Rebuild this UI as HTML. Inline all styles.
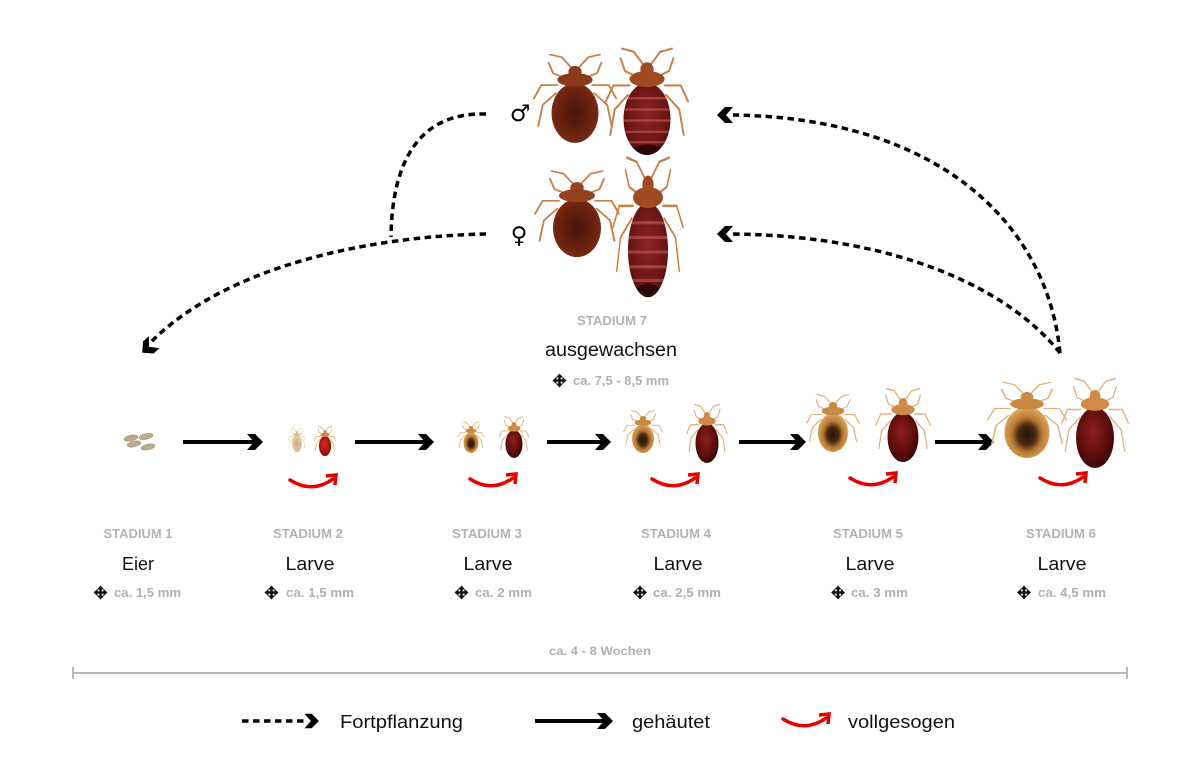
<!DOCTYPE html>
<html>
<head>
<meta charset="utf-8">
<style>
  html,body{margin:0;padding:0;background:#fff;}
  svg{display:block;}
  text{font-family:"Liberation Sans",Arial,sans-serif;}
  .st{font-size:13px;font-weight:bold;fill:#b3b3b3;}
  .nm{font-size:18px;fill:#111;}
  .sz{font-size:13px;font-weight:bold;fill:#b0b0b0;}
  .lg{font-size:18px;fill:#111;}
  .sym{font-family:"DejaVu Sans",sans-serif;font-size:23px;fill:#000;}
</style>
</head>
<body>
<svg width="1200" height="768" viewBox="0 0 1200 768" xmlns="http://www.w3.org/2000/svg">
  <defs>
    <radialGradient id="gAmber" cx="0.5" cy="0.55" r="0.55">
      <stop offset="0" stop-color="#24120a"/>
      <stop offset="0.35" stop-color="#4a2810"/>
      <stop offset="0.62" stop-color="#b87a34"/>
      <stop offset="1" stop-color="#e3aa60"/>
    </radialGradient>
    <radialGradient id="gRed" cx="0.45" cy="0.4" r="0.6">
      <stop offset="0" stop-color="#8e1e1e"/>
      <stop offset="0.7" stop-color="#5c0c0c"/>
      <stop offset="1" stop-color="#3a0505"/>
    </radialGradient>
    <radialGradient id="gRedBright" cx="0.45" cy="0.4" r="0.6">
      <stop offset="0" stop-color="#d42a20"/>
      <stop offset="1" stop-color="#8a0c0a"/>
    </radialGradient>
    <radialGradient id="gPale" cx="0.5" cy="0.5" r="0.6">
      <stop offset="0" stop-color="#c8ad80"/>
      <stop offset="1" stop-color="#e6d2a8"/>
    </radialGradient>
    <radialGradient id="gBrown" cx="0.5" cy="0.5" r="0.6">
      <stop offset="0" stop-color="#4a140a"/>
      <stop offset="0.7" stop-color="#6e2410"/>
      <stop offset="1" stop-color="#8a3416"/>
    </radialGradient>
    <radialGradient id="gStripe" cx="0.5" cy="0.45" r="0.6">
      <stop offset="0" stop-color="#8a2424"/>
      <stop offset="0.75" stop-color="#6a1414"/>
      <stop offset="1" stop-color="#3e0808"/>
    </radialGradient>
    <clipPath id="abd" clipPathUnits="userSpaceOnUse">
      <ellipse cx="0" cy="0" rx="32" ry="45"/>
    </clipPath>
    <g id="bug">
      <g fill="none" stroke-linecap="round" stroke-linejoin="round" style="stroke:var(--lc,#dca468);stroke-width:var(--lw,3)">
        <path d="M-12,-52 L-30,-60 L-36,-76 M12,-52 L30,-60 L36,-76"/>
        <path d="M-24,-42 L-46,-42 L-56,-22 M24,-42 L46,-42 L56,-22"/>
        <path d="M-26,-30 L-44,-12 L-50,20 M26,-30 L44,-12 L50,20"/>
        <path d="M-5,-68 L-18,-84 L-34,-88 M5,-68 L18,-84 L34,-88"/>
      </g>
      <ellipse cx="0" cy="0" rx="32" ry="45"/>
      <ellipse cx="0" cy="-50" rx="24" ry="10" fill="currentColor"/>
      <ellipse cx="0" cy="-62" rx="9" ry="9" fill="currentColor"/>
    </g>
    <g id="stripes" clip-path="url(#abd)" stroke="#c86060" stroke-opacity="0.55" stroke-width="3">
      <line x1="-34" y1="-26" x2="34" y2="-26"/>
      <line x1="-34" y1="-12" x2="34" y2="-12"/>
      <line x1="-34" y1="2" x2="34" y2="2"/>
      <line x1="-34" y1="16" x2="34" y2="16"/>
      <line x1="-34" y1="29" x2="34" y2="29"/>
      <ellipse cx="0" cy="40" rx="20" ry="8" fill="#2a0505" stroke="none"/>
    </g>
    <g id="mv" fill="#111">
      <rect x="-5.5" y="-1.2" width="11" height="2.4"/>
      <rect x="-1.2" y="-5.5" width="2.4" height="11"/>
      <polygon points="0,-7 -3.6,-3 3.6,-3"/>
      <polygon points="0,7 -3.6,3 3.6,3"/>
      <polygon points="-7,0 -3,-3.6 -3,3.6"/>
      <polygon points="7,0 3,-3.6 3,3.6"/>
    </g>
    <polygon id="chev" points="-15,-8 -7,-8 1,0 -7,8 -15,8 -8,0" fill="#000"/>
    <g id="redarc">
      <path d="M0,0 Q22,14 43,-1" fill="none" stroke="#e50000" stroke-width="3.5" stroke-linecap="round"/>
      <polyline points="36,-4 46,-5 45,5" fill="none" stroke="#e50000" stroke-width="3.5" stroke-linejoin="miter"/>
    </g>
  </defs>

  <rect width="1200" height="768" fill="#fff"/>

  <!-- Dashed reproduction curves -->
  <g fill="none" stroke="#000" stroke-width="3.5" stroke-dasharray="6.5 4.5">
    <path d="M486,114 C420,112 392,160 391,237"/>
    <path d="M486,234 C380,236 230,262 150,343"/>
    <path d="M1060,353 C1048,225 940,118 733,115"/>
    <path d="M1060,353 C1010,290 900,236 733,234"/>
  </g>
  <use href="#chev" transform="translate(143,352) rotate(139)"/>
  <use href="#chev" transform="translate(718,115) rotate(180)"/>
  <use href="#chev" transform="translate(718,234) rotate(180)"/>

  <!-- Sex symbols -->
  <text class="sym" x="520" y="121" text-anchor="middle">♂</text>
  <text class="sym" x="519" y="243" text-anchor="middle">♀</text>

  <!-- Adults -->
  <use href="#bug" fill="url(#gBrown)" color="#8a3a18" style="--lc:#c98048;--lw:2.6" transform="translate(575,113) scale(0.734,0.664)"/>
  <g transform="translate(647,119) scale(0.734,0.80)">
    <use href="#bug" fill="url(#gStripe)" color="#a04a22" style="--lc:#c98048;--lw:2.6"/>
    <use href="#stripes"/>
  </g>
  <use href="#bug" fill="url(#gBrown)" color="#944220" style="--lc:#c98048;--lw:2.6" transform="translate(577,228) scale(0.75,0.647)"/>
  <g transform="translate(648,250) scale(0.625,1.05)">
    <use href="#bug" fill="url(#gStripe)" color="#a04a22" style="--lc:#c98048;--lw:2.4"/>
    <use href="#stripes"/>
  </g>

  <!-- Stadium 7 labels -->
  <text class="st" x="612" y="325" text-anchor="middle" textLength="70" lengthAdjust="spacingAndGlyphs">STADIUM 7</text>
  <text class="nm" x="611" y="356" text-anchor="middle" style="font-size:19px" textLength="132" lengthAdjust="spacingAndGlyphs">ausgewachsen</text>
  <use href="#mv" x="559.5" y="380.5"/>
  <text class="sz" x="573" y="385" textLength="96" lengthAdjust="spacingAndGlyphs">ca. 7,5 - 8,5 mm</text>

  <!-- Eggs -->
  <g fill="#bcab8c" stroke="#a08f70" stroke-width="0.6">
    <ellipse cx="131" cy="438" rx="7" ry="2.8" transform="rotate(-12 131 438)"/>
    <ellipse cx="146" cy="436.5" rx="7" ry="2.8" transform="rotate(-12 146 436.5)"/>
    <ellipse cx="134" cy="444" rx="7" ry="2.8" transform="rotate(-12 134 444)"/>
    <ellipse cx="148" cy="447" rx="7" ry="2.8" transform="rotate(-12 148 447)"/>
  </g>

  <!-- Molting arrows -->
  <g stroke="#000" stroke-width="4">
    <line x1="183" y1="442" x2="256" y2="442"/>
    <line x1="355" y1="442" x2="427" y2="442"/>
    <line x1="547" y1="442" x2="604" y2="442"/>
    <line x1="739" y1="442" x2="799" y2="442"/>
    <line x1="935" y1="442" x2="987" y2="442"/>
  </g>
  <use href="#chev" transform="translate(262,442)"/>
  <use href="#chev" transform="translate(433,442)"/>
  <use href="#chev" transform="translate(610,442)"/>
  <use href="#chev" transform="translate(805,442)"/>
  <use href="#chev" transform="translate(993,442)"/>

  <!-- Nymphs -->
  <use href="#bug" fill="url(#gPale)" color="#dcc49a" style="--lc:#e2cba0;--lw:4" transform="translate(297,444) scale(0.156,0.181)"/>
  <use href="#bug" fill="url(#gRedBright)" color="#d08a50" style="--lc:#e0b080;--lw:4" transform="translate(325,446) scale(0.19,0.224)"/>

  <use href="#bug" fill="url(#gAmber)" color="#c88a40" style="--lc:#e0b080;--lw:3.5" transform="translate(471,442.5) scale(0.234,0.233)"/>
  <use href="#bug" fill="url(#gRed)" color="#d08a45" style="--lc:#e0b080;--lw:3.5" transform="translate(514,444) scale(0.266,0.31)"/>

  <use href="#bug" fill="url(#gAmber)" color="#c88a40" style="--lc:#e0b080;--lw:3" transform="translate(643,438.6) scale(0.344,0.319)"/>
  <use href="#bug" fill="url(#gRed)" color="#d08a45" style="--lc:#e0b080;--lw:3" transform="translate(707,443.2) scale(0.36,0.44)"/>

  <use href="#bug" fill="url(#gAmber)" color="#c88a40" style="--lc:#e0b080;--lw:2.6" transform="translate(833,432.6) scale(0.469,0.431)"/>
  <use href="#bug" fill="url(#gRed)" color="#d08a45" style="--lc:#e0b080;--lw:2.6" transform="translate(903,437.2) scale(0.484,0.552)"/>

  <use href="#bug" fill="url(#gAmber)" color="#c88a40" style="--lc:#e0b080;--lw:2.2" transform="translate(1027,432.4) scale(0.703,0.569)"/>
  <use href="#bug" fill="url(#gRed)" color="#d08a45" style="--lc:#e0b080;--lw:2.2" transform="translate(1095,437.7) scale(0.594,0.672)"/>

  <!-- Red fed arrows -->
  <use href="#redarc" x="290" y="480"/>
  <use href="#redarc" x="470" y="479"/>
  <use href="#redarc" x="652" y="479"/>
  <use href="#redarc" x="850" y="478"/>
  <use href="#redarc" x="1040" y="478"/>

  <!-- Stage labels -->
  <text class="st" x="138" y="538" text-anchor="middle" textLength="69" lengthAdjust="spacingAndGlyphs">STADIUM 1</text>
  <text class="st" x="308" y="538" text-anchor="middle" textLength="70" lengthAdjust="spacingAndGlyphs">STADIUM 2</text>
  <text class="st" x="487" y="538" text-anchor="middle" textLength="70" lengthAdjust="spacingAndGlyphs">STADIUM 3</text>
  <text class="st" x="676" y="538" text-anchor="middle" textLength="70" lengthAdjust="spacingAndGlyphs">STADIUM 4</text>
  <text class="st" x="868" y="538" text-anchor="middle" textLength="70" lengthAdjust="spacingAndGlyphs">STADIUM 5</text>
  <text class="st" x="1061" y="538" text-anchor="middle" textLength="70" lengthAdjust="spacingAndGlyphs">STADIUM 6</text>

  <text class="nm" x="138" y="570" text-anchor="middle" textLength="32" lengthAdjust="spacingAndGlyphs">Eier</text>
  <text class="nm" x="310" y="570" text-anchor="middle" textLength="49" lengthAdjust="spacingAndGlyphs">Larve</text>
  <text class="nm" x="488" y="570" text-anchor="middle" textLength="49" lengthAdjust="spacingAndGlyphs">Larve</text>
  <text class="nm" x="678" y="570" text-anchor="middle" textLength="49" lengthAdjust="spacingAndGlyphs">Larve</text>
  <text class="nm" x="870" y="570" text-anchor="middle" textLength="49" lengthAdjust="spacingAndGlyphs">Larve</text>
  <text class="nm" x="1062" y="570" text-anchor="middle" textLength="49" lengthAdjust="spacingAndGlyphs">Larve</text>

  <use href="#mv" x="100.5" y="592.5"/>
  <text class="sz" x="114" y="597" textLength="67" lengthAdjust="spacingAndGlyphs">ca. 1,5 mm</text>
  <use href="#mv" x="271.5" y="592.5"/>
  <text class="sz" x="286" y="597" textLength="68" lengthAdjust="spacingAndGlyphs">ca. 1,5 mm</text>
  <use href="#mv" x="461.5" y="592.5"/>
  <text class="sz" x="475" y="597" textLength="57" lengthAdjust="spacingAndGlyphs">ca. 2 mm</text>
  <use href="#mv" x="640" y="592.5"/>
  <text class="sz" x="653" y="597" textLength="68" lengthAdjust="spacingAndGlyphs">ca. 2,5 mm</text>
  <use href="#mv" x="838" y="592.5"/>
  <text class="sz" x="851" y="597" textLength="57" lengthAdjust="spacingAndGlyphs">ca. 3 mm</text>
  <use href="#mv" x="1024" y="592.5"/>
  <text class="sz" x="1038" y="597" textLength="68" lengthAdjust="spacingAndGlyphs">ca. 4,5 mm</text>

  <!-- Time scale -->
  <text class="sz" x="600" y="655" text-anchor="middle" style="font-size:12px" textLength="102" lengthAdjust="spacingAndGlyphs">ca. 4 - 8 Wochen</text>
  <g stroke="#b8b8b8" stroke-width="2">
    <line x1="73" y1="673" x2="1127" y2="673"/>
    <line x1="73" y1="667" x2="73" y2="679"/>
    <line x1="1127" y1="667" x2="1127" y2="679"/>
  </g>

  <!-- Legend -->
  <line x1="242" y1="721" x2="306" y2="721" stroke="#000" stroke-width="3.5" stroke-dasharray="6.5 4.5"/>
  <use href="#chev" transform="translate(318,721) scale(0.9)"/>
  <text class="lg" x="340" y="728" textLength="123" lengthAdjust="spacingAndGlyphs">Fortpflanzung</text>

  <line x1="535" y1="721" x2="606" y2="721" stroke="#000" stroke-width="4"/>
  <use href="#chev" transform="translate(612,721)"/>
  <text class="lg" x="632" y="728" textLength="78" lengthAdjust="spacingAndGlyphs">gehäutet</text>

  <use href="#redarc" x="783" y="719"/>
  <text class="lg" x="848" y="728" textLength="107" lengthAdjust="spacingAndGlyphs">vollgesogen</text>
</svg>
</body>
</html>
